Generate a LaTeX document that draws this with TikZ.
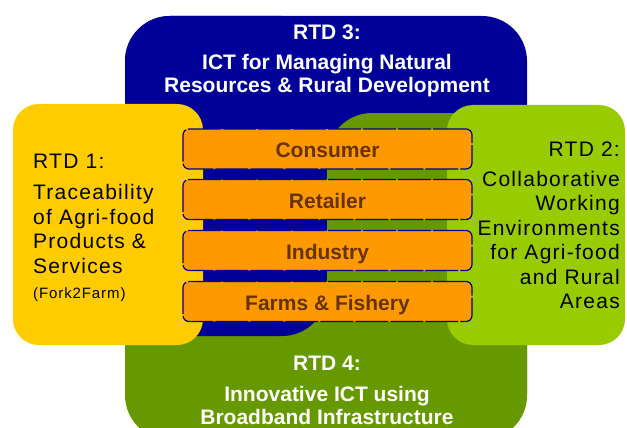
\documentclass[tikz,border=0pt]{standalone}
\usepackage{fontspec}
\setmainfont{Liberation Sans}
\newfontfamily\spacedfont[LetterSpace=6]{Liberation Sans}
\usepackage{tikz}

\definecolor{rtdblue}{HTML}{000099}
\definecolor{rtddkgreen}{HTML}{669900}
\definecolor{rtdltgreen}{HTML}{99CC00}
\definecolor{rtdyellow}{HTML}{FFCC00}
\definecolor{chainorange}{HTML}{FF9900}
\definecolor{chainbrown}{HTML}{663300}

\begin{document}
\begin{tikzpicture}[x=1pt,y=1pt,
  chain/.style={draw=rtdblue, line width=1.2pt, dash pattern=on 33pt off 2pt,
    fill=chainorange, rounded corners=6pt, minimum width=289pt, minimum height=40pt,
    text height=17pt, text depth=0pt,
    text=chainbrown, font=\fontsize{21}{23}\selectfont\bfseries},
  whitetitle/.style={text=white, align=center, font=\fontsize{21}{23}\selectfont\bfseries},
  blacktitle/.style={text=black, font=\fontsize{21}{24.5}\spacedfont}]
\tikzstyle{every node}+=[inner sep=0pt]
\useasboundingbox (0,0) rectangle (627,-428);
% RTD areas, blue and dark green overlap like a pinwheel
\fill [rtddkgreen, rounded corners=45pt] (125,-113) rectangle (527,-440);
\fill [rtdblue, rounded corners=45pt] (125,-16) rectangle (527,-150);
\fill [rtdblue, rounded corners=45pt] (125,-16) rectangle (327,-336);
\fill [rtddkgreen, rounded corners=45pt] (327,-113) rectangle (527,-440);
\fill [rtdyellow, rounded corners=26pt] (13,-104) rectangle (203,-345);
\fill [rtdltgreen, rounded corners=26pt] (447,-105) rectangle (625,-345);
% titles
\node [whitetitle, anchor=north] (rtdthree) at (327,-25)
  {RTD 3:\\[7pt]ICT for Managing Natural\\Resources \& Rural Development};
\node [whitetitle, anchor=north] (rtdfour) at (327,-355.5)
  {RTD 4:\\[8pt]Innovative ICT using\\Broadband Infrastructure};
\node [blacktitle, align=left, anchor=north west] (rtdone) at (33,-153.5)
  {RTD 1:\\[7pt]Traceability\\of Agri-food\\Products \&\\Services};
\node [anchor=north west, font=\fontsize{15}{18}\spacedfont] (forkfarm) at (33,-287.5) {(Fork2Farm)};
\node [blacktitle, align=right, anchor=north east] (rtdtwo) at (620,-141.5)
  {RTD 2:\\[5.5pt]Collaborative\\Working\\Environments\\for Agri-food\\and Rural\\Areas};
% food chain
\node [chain] (consumer) at (327.5,-149) {Consumer};
\node [chain] (retailer) at (327.5,-199.5) {Retailer};
\node [chain] (industry) at (327.5,-250.5) {Industry};
\node [chain] (farms) at (327.5,-301.5) {Farms \& Fishery};
\end{tikzpicture}
\end{document}
